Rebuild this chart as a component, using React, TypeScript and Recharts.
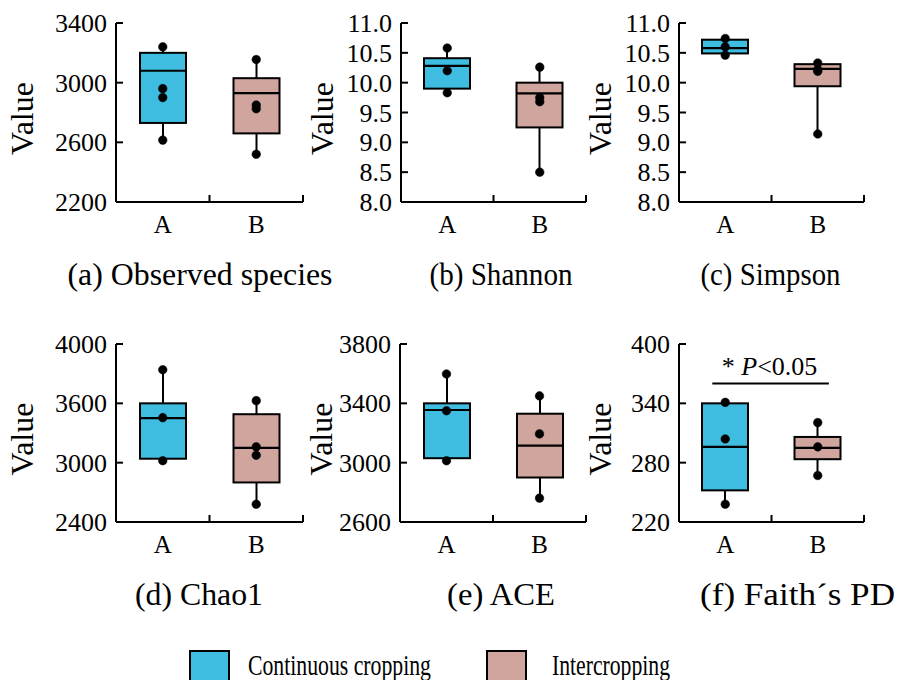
import React from 'react';
import { ComposedChart, Bar, Line, XAxis, YAxis, ReferenceLine } from 'recharts';

// ---------- data ----------
const groups = ['A', 'B'];
const groupNames = ['Continuous cropping', 'Intercropping'];
const groupColors = ['#3fbde1', '#cfa59e'];

// (a) Observed species
const observedQ1 = [2730, 2660];
const observedMedian = [3080, 2930];
const observedQ3 = [3200, 3030];
const observedPointsA = [3240, 2960, 2900, 2615];
const observedPointsB = [3155, 2850, 2825, 2520];
const observedTicks = [2200, 2600, 3000, 3400];
const observedTickLabels = ['2200', '2600', '3000', '3400'];

// (b) Shannon
const shannonQ1 = [9.9, 9.25];
const shannonMedian = [10.28, 9.82];
const shannonQ3 = [10.41, 10.0];
const shannonPointsA = [10.58, 10.2, 9.83];
const shannonPointsB = [10.26, 9.75, 9.68, 8.5];
const shannonTicks = [8, 8.5, 9, 9.5, 10, 10.5, 11];
const shannonTickLabels = ['8.0', '8.5', '9.0', '9.5', '10.0', '10.5', '11.0'];

// (c) Simpson
const simpsonQ1 = [10.49, 9.94];
const simpsonMedian = [10.58, 10.23];
const simpsonQ3 = [10.72, 10.31];
const simpsonPointsA = [10.74, 10.6, 10.46];
const simpsonPointsB = [10.33, 10.22, 10.19, 9.14];
const simpsonTicks = [8, 8.5, 9, 9.5, 10, 10.5, 11];
const simpsonTickLabels = ['8.0', '8.5', '9.0', '9.5', '10.0', '10.5', '11.0'];

// (d) Chao1
const chaoQ1 = [3040, 2800];
const chaoMedian = [3450, 3150];
const chaoQ3 = [3600, 3490];
const chaoPointsA = [3940, 3455, 3020];
const chaoPointsB = [3627, 3160, 3075, 2580];
const chaoTicks = [2400, 3000, 3600, 4200];
const chaoTickLabels = ['2400', '3000', '3600', '4000'];

// (e) ACE
const aceQ1 = [3030, 2900];
const aceMedian = [3355, 3115];
const aceQ3 = [3400, 3330];
const acePointsA = [3598, 3350, 3013];
const acePointsB = [3450, 3194, 2761];
const aceTicks = [2600, 3000, 3400, 3800];
const aceTickLabels = ['2600', '3000', '3400', '3800'];

// (f) Faith's PD
const faithQ1 = [252, 283.5];
const faithMedian = [296, 295];
const faithQ3 = [340, 306];
const faithPointsA = [341, 304, 238];
const faithPointsB = [320.5, 296, 267];
const faithTicks = [220, 280, 340, 400];
const faithTickLabels = ['220', '280', '340', '400'];
const faithSigX = [0.36, 1.62];
const faithSigY = 360;

const titles = [
  '(a) Observed species',
  '(b) Shannon',
  '(c) Simpson',
  '(d) Chao1',
  '(e) ACE',
  '(f) Faith\u00b4s PD',
];

// ---------- layout / style ----------
const FONT = '"Liberation Serif", "Times New Roman", Tinos, "DejaVu Serif", "Noto Serif", serif';
const TXT = { fontFamily: FONT };
const YW = 114;
const XH = 100;
const MT = 24;
const MR = 45;

const layouts = [
  { left: 116, top: 23, w: 187, h: 179, valueBase: 83, titleDx: -9.5, titleLen: 265 },
  { left: 401, top: 23, w: 185, h: 179, valueBase: 68, titleDx: 7.5, titleLen: 143 },
  { left: 679, top: 23, w: 185, h: 179, valueBase: 68, titleDx: -1, titleLen: 140 },
  { left: 116, top: 344, w: 187, h: 178, valueBase: 83, titleDx: -10.5, titleLen: 128 },
  { left: 400, top: 344, w: 186, h: 178, valueBase: 68, titleDx: 8, titleLen: 108 },
  { left: 679, top: 344, w: 185, h: 178, valueBase: 68, titleDx: 26, titleLen: 195 },
];

const panels = [
  { q1: observedQ1, med: observedMedian, q3: observedQ3, points: [observedPointsA, observedPointsB], ticks: observedTicks, labels: observedTickLabels },
  { q1: shannonQ1, med: shannonMedian, q3: shannonQ3, points: [shannonPointsA, shannonPointsB], ticks: shannonTicks, labels: shannonTickLabels },
  { q1: simpsonQ1, med: simpsonMedian, q3: simpsonQ3, points: [simpsonPointsA, simpsonPointsB], ticks: simpsonTicks, labels: simpsonTickLabels },
  { q1: chaoQ1, med: chaoMedian, q3: chaoQ3, points: [chaoPointsA, chaoPointsB], ticks: chaoTicks, labels: chaoTickLabels },
  { q1: aceQ1, med: aceMedian, q3: aceQ3, points: [acePointsA, acePointsB], ticks: aceTicks, labels: aceTickLabels },
  { q1: faithQ1, med: faithMedian, q3: faithQ3, points: [faithPointsA, faithPointsB], ticks: faithTicks, labels: faithTickLabels, sig: true },
];

function makeRows(p: any) {
  return groups.map((g, i) => {
    const pts: number[] = p.points[i];
    const row: any = {
      x: i + 0.5,
      cat: g,
      idx: i,
      q1: p.q1[i],
      med: p.med[i],
      q3: p.q3[i],
      whisk: [Math.min(p.q1[i], ...pts), Math.max(p.q3[i], ...pts)],
    };
    for (let k = 0; k < 4; k++) row['p' + k] = k < pts.length ? pts[k] : null;
    return row;
  });
}

const BoxShape = (props: any) => {
  const { x, y, width, height, payload } = props;
  if (!payload || x == null || y == null) return <g />;
  const [lo, hi] = payload.whisk;
  const top = Math.min(y, y + height);
  const h = Math.abs(height);
  const yOf = (v: number) => top + ((hi - v) / (hi - lo)) * h;
  const cx = x + width / 2;
  const yq3 = yOf(payload.q3);
  const yq1 = yOf(payload.q1);
  const ym = yOf(payload.med);
  return (
    <g>
      <line x1={cx} x2={cx} y1={yOf(hi)} y2={yOf(lo)} stroke="#000" strokeWidth={2} />
      <rect x={x} y={yq3} width={width} height={yq1 - yq3} fill={groupColors[payload.idx]} stroke="#000" strokeWidth={2} />
      <line x1={x} x2={x + width} y1={ym} y2={ym} stroke="#000" strokeWidth={2.2} />
    </g>
  );
};

const XTick = (props: any) => {
  const { x, y, payload } = props;
  const v = payload.value;
  if (Math.abs(v - Math.round(v)) < 1e-6) {
    if (Math.round(v) === 0) return <g />;
    return <line x1={x} x2={x} y1={y} y2={y - 7} stroke="#000" strokeWidth={2} />;
  }
  return (
    <text x={x} y={y + 31} textAnchor="middle" fontFamily={FONT} style={TXT} fontSize={25} fill="#000">
      {groups[Math.floor(v)]}
    </text>
  );
};

const makeYTick = (ticks: number[], labels: string[]) => (props: any) => {
  const { x, y, payload } = props;
  const i = ticks.indexOf(payload.value);
  return (
    <g>
      <line x1={x} x2={x + 7} y1={y} y2={y} stroke="#000" strokeWidth={2} />
      <text x={x - 9} y={y} dy="0.35em" textAnchor="end" fontFamily={FONT} style={TXT} fontSize={26} fill="#000">
        {i >= 0 ? labels[i] : String(payload.value)}
      </text>
    </g>
  );
};

function Panel({ index }: { index: number }) {
  const p: any = panels[index];
  const L = layouts[index];
  const rows = makeRows(p);
  const width = YW + L.w + MR;
  const height = MT + L.h + XH;
  const domain = [p.ticks[0], p.ticks[p.ticks.length - 1]];

  const valueLabel = () => (
    <text
      transform={`translate(${YW - L.valueBase},${MT + L.h / 2 + 6}) rotate(-90)`}
      textAnchor="middle"
      fontFamily={FONT}
      style={TXT}
      fontSize={32}
      fill="#000"
    >
      Value
    </text>
  );
  const titleLabel = () => (
    <text
      x={YW + L.w / 2 + L.titleDx}
      y={MT + L.h + 83}
      textAnchor="middle"
      fontFamily={FONT}
      style={TXT}
      fontSize={31}
      fill="#000"
      textLength={L.titleLen}
      lengthAdjust="spacingAndGlyphs"
    >
      {titles[index]}
    </text>
  );
  const sigLabel = (lp: any) => {
    const vb = lp && lp.viewBox;
    const cx = vb && vb.x != null ? vb.x + (vb.width || 0) / 2 : YW + L.w / 2;
    const cy = vb && vb.y != null ? vb.y : MT + 40;
    return (
      <text x={cx - 1} y={cy - 9} textAnchor="middle" fontFamily={FONT} style={TXT} fontSize={26} fill="#000">
        <tspan>{'* '}</tspan>
        <tspan fontStyle="italic">P</tspan>
        <tspan>{'<0.05'}</tspan>
      </text>
    );
  };

  return (
    <div style={{ position: 'absolute', left: L.left - YW, top: L.top - MT, width, height }}>
      <ComposedChart
        width={width}
        height={height}
        data={rows}
        margin={{ top: MT, right: MR, bottom: 0, left: 0 }}
        style={{ overflow: 'visible', fontFamily: FONT }}
      >
        <XAxis
          dataKey="x"
          type="number"
          domain={[0, 2]}
          ticks={[0, 0.5, 1, 1.5, 2]}
          interval={0}
          allowDataOverflow
          height={XH}
          tickSize={0}
          tickMargin={0}
          tickLine={false}
          axisLine={{ stroke: '#000', strokeWidth: 2 }}
          tick={<XTick />}
          label={{ content: titleLabel }}
        />
        <YAxis
          type="number"
          domain={domain}
          ticks={p.ticks}
          interval={0}
          allowDataOverflow
          width={YW}
          tickSize={0}
          tickMargin={0}
          tickLine={false}
          axisLine={{ stroke: '#000', strokeWidth: 2 }}
          tick={makeYTick(p.ticks, p.labels)}
          label={{ content: valueLabel }}
        />
        <Bar dataKey="whisk" barSize={46} shape={<BoxShape />} isAnimationActive={false} />
        {[0, 1, 2, 3].map((k) => (
          <Line
            key={k}
            dataKey={'p' + k}
            stroke="none"
            strokeWidth={0}
            dot={{ r: 4.3, fill: '#000', stroke: '#000', strokeWidth: 0.5 }}
            activeDot={false}
            isAnimationActive={false}
          />
        ))}
        {p.sig ? (
          <ReferenceLine
            segment={[
              { x: faithSigX[0], y: faithSigY },
              { x: faithSigX[1], y: faithSigY },
            ]}
            stroke="#000"
            strokeWidth={2}
            ifOverflow="visible"
            label={{ content: sigLabel }}
          />
        ) : null}
      </ComposedChart>
    </div>
  );
}

function LegendBar() {
  const items = [
    { rx: 190, tx: 248, len: 183 },
    { rx: 487, tx: 552, len: 118 },
  ];
  return (
    <svg width={899} height={50} style={{ position: 'absolute', left: 0, top: 630 }}>
      {items.map((it, i) => (
        <g key={i}>
          <rect x={it.rx} y={21} width={39} height={32} fill={groupColors[i]} stroke="#000" strokeWidth={2} />
          <text x={it.tx} y={45} fontFamily={FONT} style={TXT} fontSize={29} fill="#000" textLength={it.len} lengthAdjust="spacingAndGlyphs">
            {groupNames[i]}
          </text>
        </g>
      ))}
    </svg>
  );
}

export default function App() {
  return (
    <div style={{ position: 'absolute', left: 0, top: 0, width: 899, height: 680, background: '#fff', overflow: 'hidden', fontFamily: FONT }}>
      {panels.map((_, i) => (
        <Panel key={i} index={i} />
      ))}
      <LegendBar />
    </div>
  );
}
